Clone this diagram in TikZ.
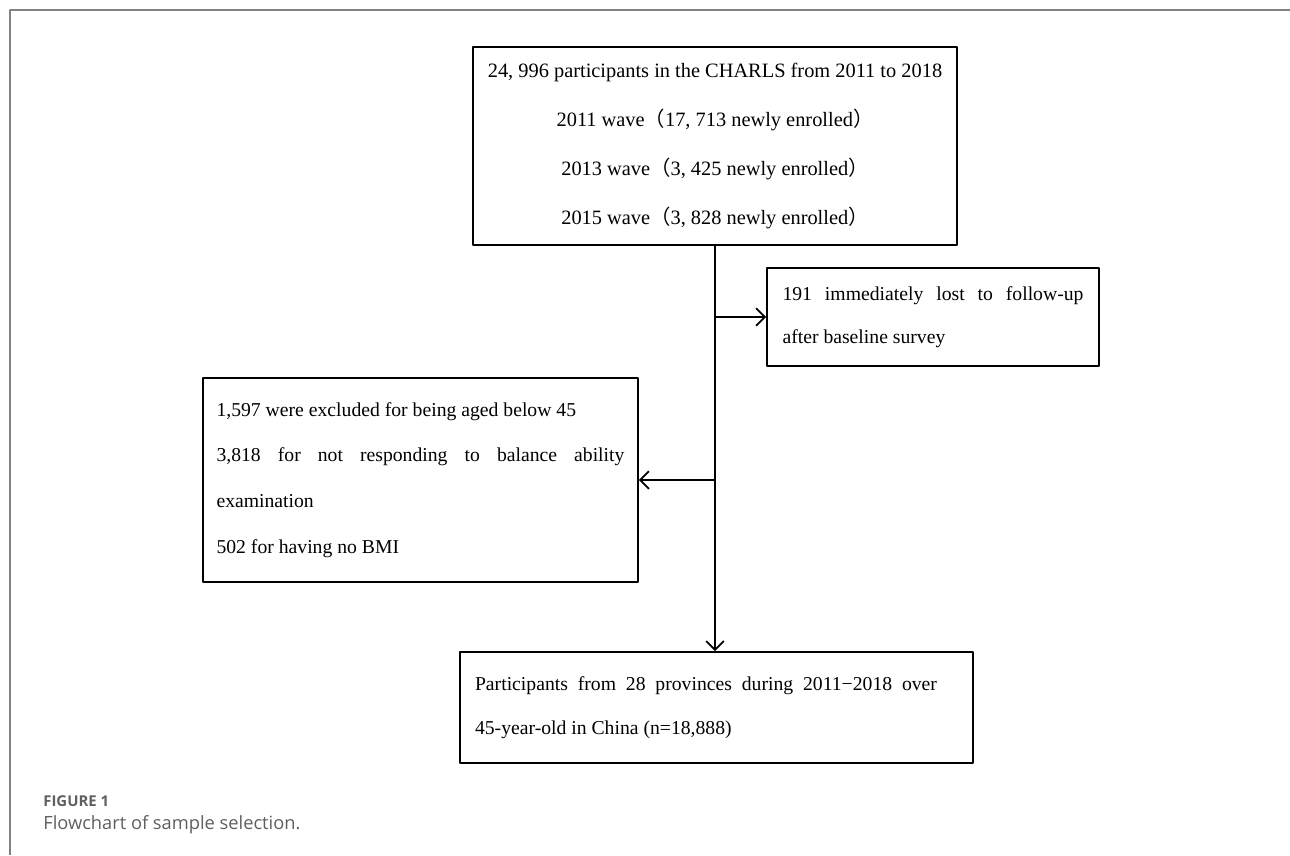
\documentclass[tikz,border=0pt]{standalone}
\usepackage{fontspec}
\setmainfont{Liberation Serif}
\newfontfamily\capfont{Open Sans}
\newfontfamily\cjk{Noto Sans CJK SC}
\usetikzlibrary{arrows.meta,calc}
\definecolor{frameGray}{RGB}{130,130,130}
\definecolor{capGray}{RGB}{95,95,95}
\newcommand{\lpar}{{\cjk （}}
\newcommand{\rpar}{{\cjk ）}}
\newcommand{\normsp}{\spaceskip=0pt\relax\xspaceskip=0pt\relax}

\begin{document}
\begin{tikzpicture}[x=0.02cm, y=-0.02cm, line join=round,
  box/.style={draw, line width=1.1pt, inner ysep=0pt},
  arr/.style={-{Straight Barb[length=5pt,width=10pt]}, line width=1pt}]
\useasboundingbox (0,0) rectangle (1290,855);
\draw[frameGray, line width=0.8pt] (10,855) -- (10,10) -- (1290,10);
\node[box, minimum width=9.68cm, minimum height=3.96cm, align=center, font=\fontsize{11.6}{27.8}\selectfont] (top) at (715,146) {\normsp 24, 996 participants in the CHARLS from 2011 to 2018\\
2011 wave\lpar 17, 713 newly enrolled\rpar\\
2013 wave\lpar 3, 425 newly enrolled\rpar\\
2015 wave\lpar 3, 828 newly enrolled\rpar};
\node[box, minimum height=1.96cm, text width=6.02cm, inner xsep=0.31cm, align=left, font=\fontsize{11.2}{24.4}\selectfont] (lost) at (933,317) {\normsp\makebox[6.02cm][s]{191 immediately lost to follow-up}\\
after baseline survey};
\node[box, minimum height=4.08cm, text width=8.16cm, inner xsep=0.27cm, align=left, font=\fontsize{11.2}{26}\selectfont] (excl) at (420.5,480) {\normsp 1,597 were excluded for being aged below 45\\
\makebox[8.16cm][s]{3,818 for not responding to balance ability}\\
examination\\
502 for having no BMI};
\node[box, minimum height=2.22cm, text width=9.66cm, inner xsep=0.3cm, align=left, font=\fontsize{11.2}{25}\selectfont] (final) at (716.5,707.5) {\normsp\makebox[9.24cm][s]{Participants from 28 provinces during 2011−2018 over}\\
45-year-old in China (n=18,888)};
\coordinate (jr) at (top.south |- lost.west);
\coordinate (jl) at (top.south |- excl.east);
\draw[arr] (top.south) -- (top.south |- final.north);
\draw[arr] (jr) -- (lost.west);
\draw[arr] (jl) -- (excl.east);
\node[anchor=base west, font=\capfont\bfseries\fontsize{8.5}{10}\selectfont, text=capGray, inner sep=0pt] (figlabel) at (43,806) {FIGURE 1};
\node[anchor=base west, font=\capfont\fontsize{10.4}{12}\selectfont, text=capGray, inner sep=0pt] (caption) at (43,829) {Flowchart of sample selection.};
\end{tikzpicture}
\end{document}
